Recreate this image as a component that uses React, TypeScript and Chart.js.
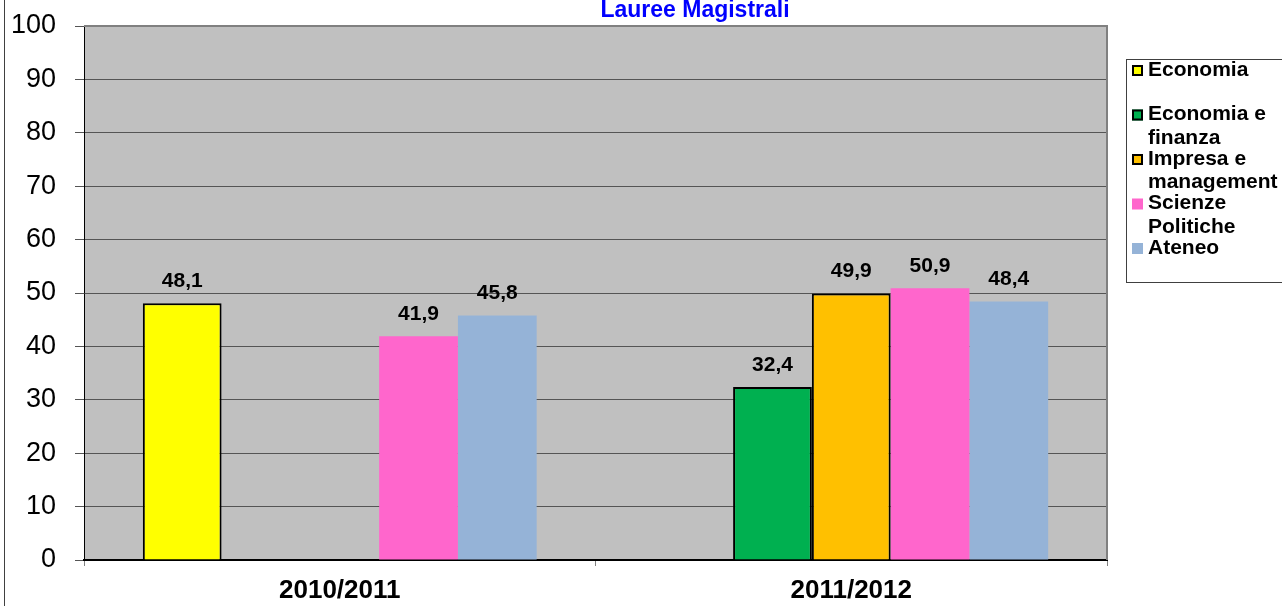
import React, { useEffect, useRef } from "react";
import { Chart, registerables } from "chart.js";

Chart.register(...registerables);

const categories = ["2010/2011", "2011/2012"];
const seriesNames = ["Economia", "Economia e finanza", "Impresa e management", "Scienze Politiche", "Ateneo"];
const economia = [48.1, null];
const economiaFinanza = [null, 32.4];
const impresaManagement = [null, 49.9];
const scienzePolitiche = [41.9, 50.9];
const ateneo = [45.8, 48.4];
const yTicks = [0, 10, 20, 30, 40, 50, 60, 70, 80, 90, 100];
const chartTitle = "Lauree Magistrali";

const seriesColors = ["#FFFF00", "#00B050", "#FFC000", "#FF66CC", "#95B3D7"];
const seriesBorders = [2, 2, 2, 0, 0];
const FONT = "'Liberation Sans', Arial, sans-serif";

const decorPlugin = {
  id: "decor",
  beforeDraw(chart: any) {
    const { ctx, chartArea: a } = chart;
    ctx.save();
    ctx.fillStyle = "#C0C0C0";
    ctx.fillRect(a.left, a.top, a.right - a.left, a.bottom - a.top);
    ctx.restore();
  },
  afterDraw(chart: any) {
    const { ctx, chartArea: a } = chart;
    ctx.save();
    ctx.strokeStyle = "#808080";
    ctx.lineWidth = 2;
    ctx.beginPath();
    ctx.moveTo(a.left, a.top);
    ctx.lineTo(a.right, a.top);
    ctx.lineTo(a.right, a.bottom);
    ctx.stroke();
    ctx.strokeStyle = "#404040";
    ctx.lineWidth = 1;
    ctx.beginPath();
    ctx.moveTo(4.5, 0);
    ctx.lineTo(4.5, chart.height);
    ctx.stroke();
    ctx.fillStyle = "#0000FF";
    ctx.font = `bold 23px ${FONT}`;
    ctx.textAlign = "center";
    ctx.textBaseline = "middle";
    ctx.fillText(chartTitle, 695, 11);
    const lx = 1126.5, ly = 59.5;
    ctx.strokeStyle = "#404040";
    ctx.lineWidth = 1;
    ctx.strokeRect(lx, ly, 200, 223);
    ctx.font = `bold 21px ${FONT}`;
    ctx.textAlign = "left";
    seriesNames.forEach((name, i) => {
      const y0 = 70 + 44.5 * i;
      ctx.fillStyle = seriesColors[i];
      ctx.fillRect(1132, y0 - 5, 11, 11);
      if (seriesBorders[i]) {
        ctx.strokeStyle = "#000";
        ctx.lineWidth = 2;
        ctx.strokeRect(1133, y0 - 4, 9, 9);
      }
      const words = name.split(" ");
      const lines: string[] = [];
      let cur = "";
      words.forEach((w) => {
        const t = cur ? cur + " " + w : w;
        if (cur && ctx.measureText(t).width > 135) {
          lines.push(cur);
          cur = w;
        } else cur = t;
      });
      if (cur) lines.push(cur);
      ctx.fillStyle = "#000";
      lines.forEach((ln, j) => ctx.fillText(ln, 1148, y0 + j * 23.5));
    });
    ctx.restore();
  },
  afterDatasetsDraw(chart: any) {
    const { ctx } = chart;
    ctx.save();
    ctx.font = `bold 21px ${FONT}`;
    ctx.fillStyle = "#000";
    ctx.textAlign = "center";
    ctx.textBaseline = "middle";
    chart.data.datasets.forEach((ds: any, di: number) => {
      const meta = chart.getDatasetMeta(di);
      meta.data.forEach((el: any, i: number) => {
        const v = ds.data[i];
        if (v === null || v === undefined) return;
        ctx.fillText(v.toFixed(1).replace(".", ","), el.x, el.y - 22);
      });
    });
    ctx.restore();
  },
};

export default function App() {
  const ref = useRef<HTMLCanvasElement>(null);
  useEffect(() => {
    if (!ref.current) return;
    const seriesData = [economia, economiaFinanza, impresaManagement, scienzePolitiche, ateneo];
    const chart = new Chart(ref.current, {
      type: "bar",
      data: {
        labels: categories,
        datasets: seriesNames.map((n, i) => ({
          label: n,
          data: seriesData[i] as any,
          backgroundColor: seriesColors[i],
          borderColor: "#000",
          borderWidth: seriesBorders[i],
          categoryPercentage: 0.77,
          barPercentage: 1,
        })),
      },
      options: {
        animation: false,
        responsive: true,
        maintainAspectRatio: false,
        layout: { padding: { left: 0, right: 175, top: 26, bottom: 0 } },
        plugins: { legend: { display: false }, title: { display: false }, tooltip: { enabled: false } },
        scales: {
          x: {
            afterFit: (s: any) => { s.height = 46; s.paddingLeft = 0; s.paddingRight = 0; },
            grid: { display: true, drawOnChartArea: false, drawTicks: true, tickLength: 6, color: "#808080", offset: true },
            border: { display: true, color: "#000", width: 2 },
            ticks: { color: "#000", font: { family: FONT, size: 26, weight: "bold" }, padding: 9 },
          },
          y: {
            min: 0,
            max: 100,
            afterFit: (s: any) => { s.width = 84; s.paddingTop = 0; s.paddingBottom = 0; },
            afterBuildTicks: (s: any) => { s.ticks = yTicks.map((v) => ({ value: v })); },
            grid: { color: "#555555", tickLength: 9, lineWidth: 1 },
            border: { display: true, color: "#000", width: 1 },
            ticks: { color: "#000", font: { family: FONT, size: 27 }, padding: 19 },
          },
        },
      },
      plugins: [decorPlugin],
    });
    return () => chart.destroy();
  }, []);
  return (
    <div style={{ position: "absolute", left: 0, top: 0, width: 1282, height: 606, background: "#fff" }}>
      <canvas ref={ref} />
    </div>
  );
}
